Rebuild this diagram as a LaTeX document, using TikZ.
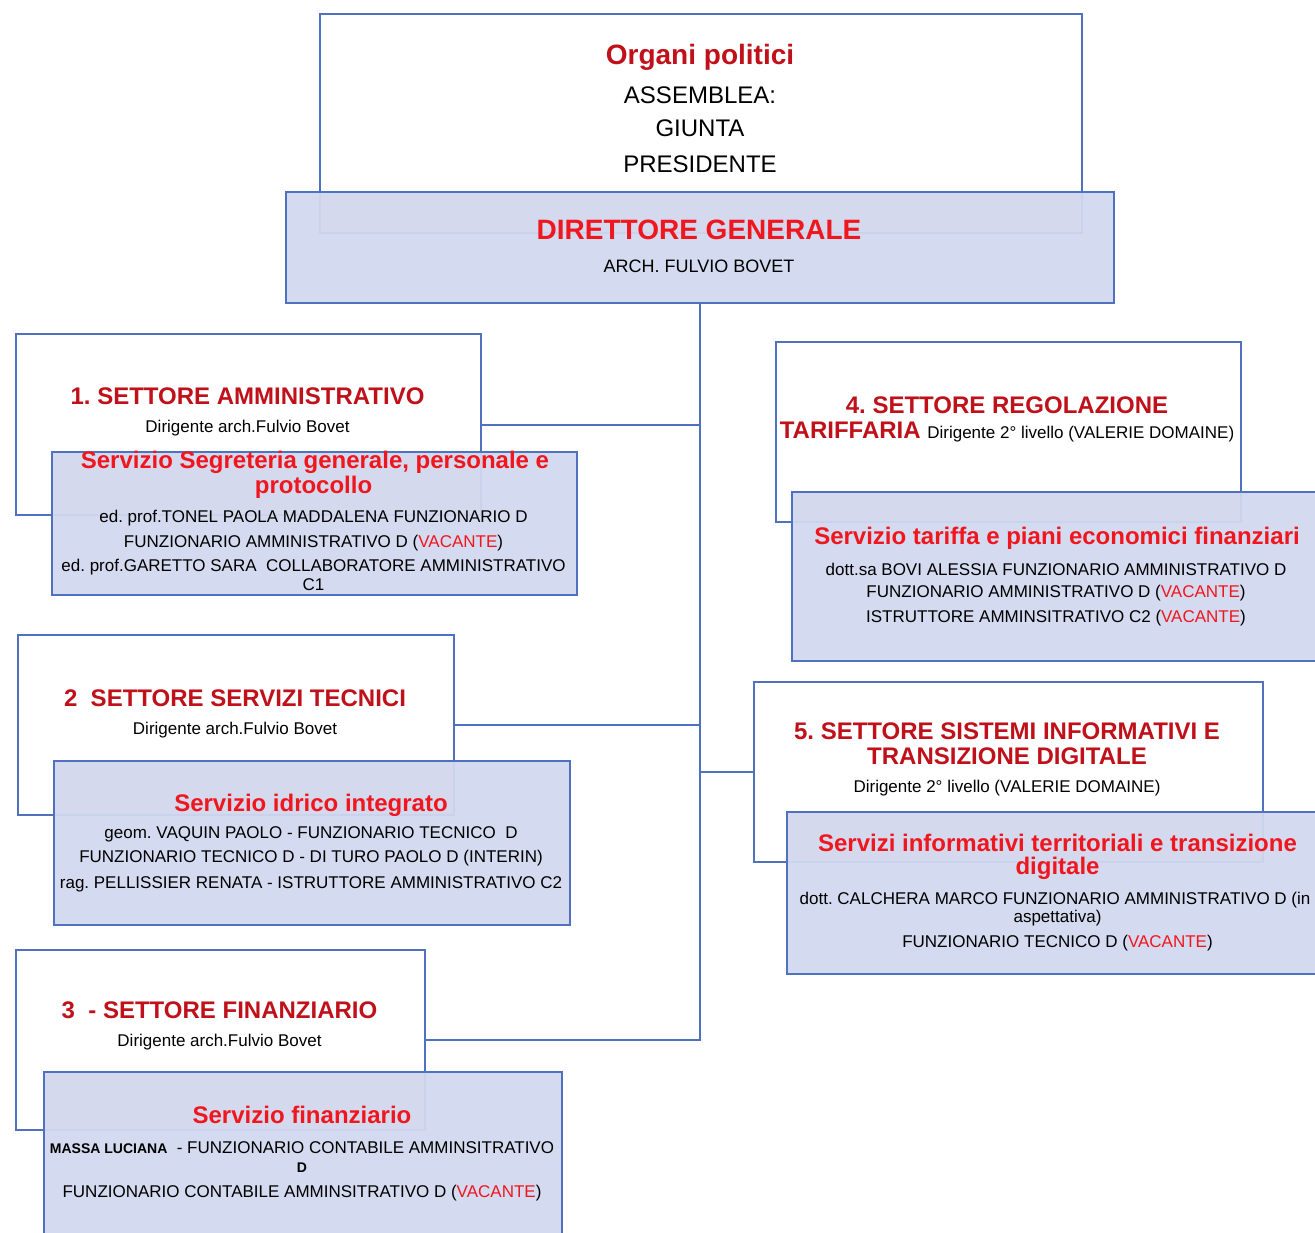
\documentclass[tikz,border=0pt]{standalone}
\usepackage{fontspec}
\setmainfont{Liberation Sans}
\frenchspacing
\definecolor{boxblue}{RGB}{80,112,192}
\definecolor{servfill}{RGB}{210,216,238}
\definecolor{secred}{RGB}{192,16,26}
\definecolor{servred}{RGB}{240,22,30}
\newcommand{\vac}[1]{\textcolor{servred}{#1}}
\tikzset{
  box/.style={draw=boxblue, line width=1pt, fill=white, inner sep=0pt, anchor=north west},
  servbox/.style={box, fill=servfill, fill opacity=0.95},
  link/.style={draw=boxblue, line width=1pt},
  bigtitle/.style={font=\fontsize{14}{15}\selectfont\bfseries, inner sep=0pt},
  organ/.style={font=\fontsize{12}{13}\selectfont, inner sep=0pt},
  sectitle/.style={font=\fontsize{12}{13}\selectfont\bfseries, text=secred, inner sep=0pt},
  servtitle/.style={font=\fontsize{12}{13}\selectfont\bfseries, text=servred, inner sep=0pt},
  detail/.style={font=\fontsize{8.5}{9}\selectfont, inner sep=0pt},
}
\begin{document}
\begin{tikzpicture}[x=0.5pt,y=-0.5pt]
\useasboundingbox (0,0) rectangle (1315,1232);
% vertici
\node[box, minimum width=381pt, minimum height=109.5pt] (organi) at (319,13) {};
\node[servbox, minimum width=414pt, minimum height=55.5pt] (dg) at (285,191) {};
% settori
\node[box, minimum width=232.5pt, minimum height=90.5pt] (s1) at (15,333) {};
\node[box, minimum width=232.5pt, minimum height=90pt] (s4) at (775,341) {};
\node[box, minimum width=218pt, minimum height=90pt] (s2) at (17,634) {};
\node[box, minimum width=254.5pt, minimum height=90pt] (s5) at (753,681) {};
\node[box, minimum width=204.5pt, minimum height=90pt] (s3) at (15,949) {};
% collegamenti
\draw[link] (dg.south) -- (dg.south |- s3.east) -- (s3.east);
\draw[link] (dg.south |- s1.east) -- (s1.east);
\draw[link] (dg.south |- s2.east) -- (s2.east);
\draw[link] (dg.south |- s5.west) -- (s5.west);
% servizi
\node[servbox, minimum width=262.5pt, minimum height=71.5pt] (v1) at (51,451) {};
\node[servbox, minimum width=265pt, minimum height=84.5pt] (v4) at (791,491) {};
\node[servbox, minimum width=258pt, minimum height=82pt] (v2) at (53,760) {};
\node[servbox, minimum width=271.5pt, minimum height=81pt] (v5) at (786,811) {};
\node[servbox, minimum width=259pt, minimum height=85pt] (v3) at (43,1071) {};
% testi
\node[bigtitle, text=secred] (orgtitle) at (700,57) {Organi politici};
\node[organ] (assemblea) at (700,95) {ASSEMBLEA:};
\node[organ] (giunta) at (700,128) {GIUNTA};
\node[organ] (presidente) at (700,164) {PRESIDENTE};
\node[bigtitle, text=servred] (dgtitle) at (699,230) {DIRETTORE GENERALE};
\node[detail, font=\fontsize{9}{10}\selectfont] (dgname) at (699,266) {ARCH. FULVIO BOVET};

\node[sectitle] (s1title) at (247.5,396) {1. SETTORE AMMINISTRATIVO};
\node[detail] (s1dir) at (247.5,428) {Dirigente arch.Fulvio Bovet};
\node[servtitle] (v1titlea) at (315,462) {Servizio Segreteria generale, personale e};
\node[servtitle] (v1titleb) at (313.5,487) {protocollo};
\node[detail] (v1a) at (313.5,518) {ed. prof.TONEL PAOLA MADDALENA FUNZIONARIO D};
\node[detail] (v1b) at (313.5,543) {FUNZIONARIO AMMINISTRATIVO D (\vac{VACANTE})};
\node[detail] (v1c) at (313.5,567) {ed. prof.GARETTO SARA\ \ COLLABORATORE AMMINISTRATIVO};
\node[detail] (v1d) at (313.5,585) {C1};

\node[sectitle] (s4title) at (1007,405) {4. SETTORE REGOLAZIONE};
\node[sectitle] (s4titleb) at (1007,432) {TARIFFARIA {\mdseries\color{black}\fontsize{8.5}{9}\selectfont Dirigente 2° livello (VALERIE DOMAINE)}};
\node[servtitle] (v4title) at (1057,538) {Servizio tariffa e piani economici finanziari};
\node[detail] (v4a) at (1056,569) {dott.sa BOVI ALESSIA FUNZIONARIO AMMINISTRATIVO D};
\node[detail] (v4b) at (1056,593) {FUNZIONARIO AMMINISTRATIVO D (\vac{VACANTE})};
\node[detail] (v4c) at (1056,618) {ISTRUTTORE AMMINSITRATIVO C2 (\vac{VACANTE})};

\node[sectitle] (s2title) at (235,698) {2\ \ SETTORE SERVIZI TECNICI};
\node[detail] (s2dir) at (235,730) {Dirigente arch.Fulvio Bovet};
\node[servtitle] (v2title) at (311,805) {Servizio idrico integrato};
\node[detail] (v2a) at (311,834) {geom. VAQUIN PAOLO - FUNZIONARIO TECNICO\ \ D};
\node[detail] (v2b) at (311,858) {FUNZIONARIO TECNICO D - DI TURO PAOLO D (INTERIN)};
\node[detail] (v2c) at (311,884) {rag. PELLISSIER RENATA - ISTRUTTORE AMMINISTRATIVO C2};

\node[sectitle] (s5titlea) at (1007,731) {5. SETTORE SISTEMI INFORMATIVI E};
\node[sectitle] (s5titleb) at (1007,756) {TRANSIZIONE DIGITALE};
\node[detail] (s5dir) at (1007,788) {Dirigente 2° livello (VALERIE DOMAINE)};
\node[servtitle] (v5titlea) at (1057.5,843) {Servizi informativi territoriali e transizione};
\node[servtitle] (v5titleb) at (1057.5,868) {digitale};
\node[detail] (v5a) at (1055,900) {dott. CALCHERA MARCO FUNZIONARIO AMMINISTRATIVO D (in};
\node[detail] (v5b) at (1057.5,918) {aspettativa)};
\node[detail] (v5c) at (1057.5,943) {FUNZIONARIO TECNICO D (\vac{VACANTE})};

\node[sectitle] (s3title) at (219.5,1010) {3\ \ - SETTORE FINANZIARIO};
\node[detail] (s3dir) at (219.5,1042) {Dirigente arch.Fulvio Bovet};
\node[servtitle] (v3title) at (302,1115) {Servizio finanziario};
\node[detail] (v3a) at (302,1148) {{\bfseries\fontsize{7}{8}\selectfont MASSA LUCIANA}\ \ - FUNZIONARIO CONTABILE AMMINSITRATIVO};
\node[detail, font=\fontsize{7}{8}\selectfont\bfseries] (v3b) at (302,1168) {D};
\node[detail] (v3c) at (302,1193) {FUNZIONARIO CONTABILE AMMINSITRATIVO D (\vac{VACANTE})};
\end{tikzpicture}
\end{document}
